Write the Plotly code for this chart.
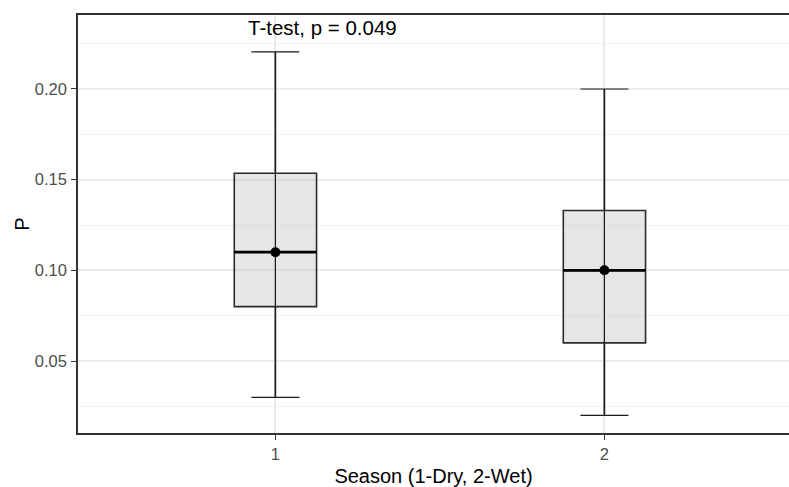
import plotly.graph_objects as go

# Data
seasons = [1, 2]
lower_whisker = [0.030, 0.020]
q1 = [0.080, 0.060]
median = [0.110, 0.100]
q3 = [0.1535, 0.133]
upper_whisker = [0.2205, 0.200]
means = [0.110, 0.100]
test_label = "T-test, p = 0.049"

FONT = "Liberation Sans, Arial, sans-serif"
BOX_W = 0.25

fig = go.Figure()

# Boxes (semi-transparent grey fill)
fig.add_trace(go.Box(
    x=seasons, q1=q1, median=median, q3=q3,
    lowerfence=lower_whisker, upperfence=upper_whisker,
    width=BOX_W, whiskerwidth=0,
    fillcolor="rgba(185,185,185,0.36)",
    line=dict(color="#2b2b2b", width=1.6),
    boxpoints=False, hoverinfo="skip", showlegend=False,
))

# Error-bar style whiskers with caps, spanning the full range through the box
fig.add_trace(go.Scatter(
    x=seasons, y=median, mode="markers",
    marker=dict(size=0.1, color="rgba(0,0,0,0)"),
    error_y=dict(type="data", symmetric=False,
                 array=[u - m for u, m in zip(upper_whisker, median)],
                 arrayminus=[m - l for m, l in zip(median, lower_whisker)],
                 color="#1a1a1a", thickness=1.2, width=24),
    hoverinfo="skip", showlegend=False,
))

# Thick median line
fig.add_trace(go.Scatter(
    x=seasons, y=median, mode="markers",
    marker=dict(size=0.1, color="rgba(0,0,0,0)"),
    error_x=dict(type="data", array=[BOX_W / 2] * len(seasons),
                 color="#000000", thickness=2.8, width=0),
    hoverinfo="skip", showlegend=False,
))

# Mean point
fig.add_trace(go.Scatter(
    x=seasons, y=means, mode="markers",
    marker=dict(size=10, color="#000000", symbol="circle"),
    hoverinfo="skip", showlegend=False,
))

fig.add_annotation(
    x=seasons[0], y=0.234, text=test_label, showarrow=False,
    xanchor="left", yanchor="middle", xshift=-29,
    font=dict(family=FONT, size=20.5, color="#000000"),
)

fig.update_layout(
    width=789, height=487,
    margin=dict(l=78, r=0, t=15, b=54),
    paper_bgcolor="white", plot_bgcolor="white",
    font=dict(family=FONT),
)

fig.update_xaxes(
    range=[0.4, 2.561],
    tickmode="array", tickvals=seasons, ticktext=[str(s) for s in seasons],
    showgrid=True, gridcolor="#EBEBEB", gridwidth=1.5,
    showline=True, linecolor="#333333", linewidth=1.5, mirror=True,
    ticks="outside", ticklen=5, tickcolor="#333333", tickwidth=1.2,
    tickfont=dict(family=FONT, size=16.5, color="#4D4D4D"),
    zeroline=False,
    title=dict(text="Season (1-Dry, 2-Wet)", font=dict(family=FONT, size=20, color="#000000"), standoff=8),
)

fig.update_yaxes(
    range=[0.0103, 0.2408],
    tickmode="array", tickvals=[0.05, 0.10, 0.15, 0.20],
    ticktext=["0.05", "0.10", "0.15", "0.20"],
    showgrid=True, gridcolor="#EBEBEB", gridwidth=1.5,
    minor=dict(tickmode="array", tickvals=[0.025, 0.075, 0.125, 0.175, 0.225],
               showgrid=True, gridcolor="#F2F2F2", gridwidth=1, ticks=""),
    showline=True, linecolor="#333333", linewidth=1.5, mirror=False,
    ticks="outside", ticklen=5, tickcolor="#333333", tickwidth=1.2,
    ticklabelstandoff=1,
    tickfont=dict(family=FONT, size=16.5, color="#4D4D4D"),
    zeroline=False,
    title=dict(text="P", font=dict(family=FONT, size=20, color="#000000"), standoff=0),
)

fig.write_html("out.html")
